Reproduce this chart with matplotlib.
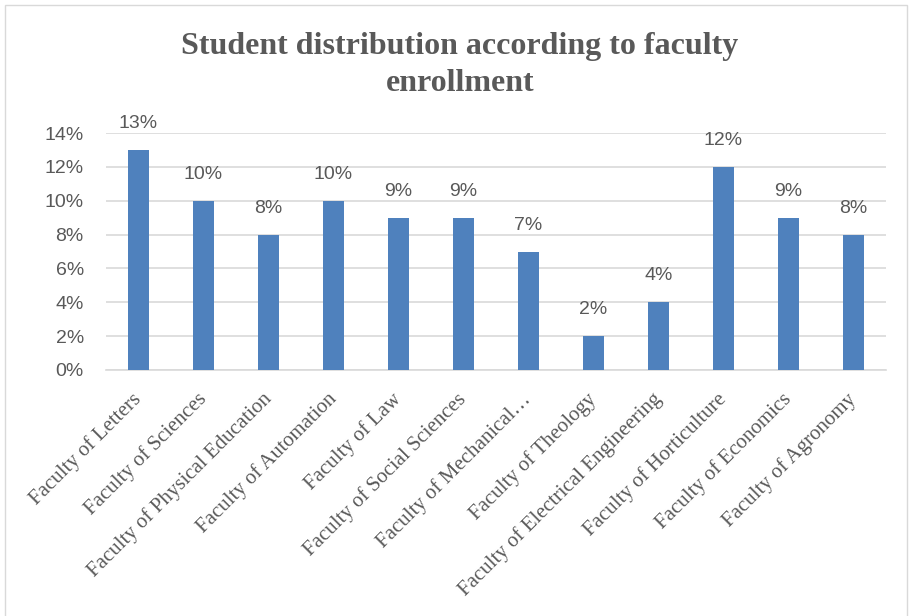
import matplotlib.pyplot as plt
from matplotlib.patches import Rectangle
from matplotlib.ticker import FuncFormatter

faculties = [
    "Faculty of Letters",
    "Faculty of Sciences",
    "Faculty of Physical Education",
    "Faculty of Automation",
    "Faculty of Law",
    "Faculty of Social Sciences",
    "Faculty of Mechanical\u2026",
    "Faculty of Theology",
    "Faculty of Electrical Engineering",
    "Faculty of Horticulture",
    "Faculty of Economics",
    "Faculty of Agronomy",
]
shares = [13, 10, 8, 10, 9, 9, 7, 2, 4, 12, 9, 8]
y_ticks = [0, 2, 4, 6, 8, 10, 12, 14]

TEXT = "#595959"
BAR = "#4F81BD"
GRID = "#D9D9D9"


def main():
    fig = plt.figure(figsize=(9.11, 6.16), dpi=100)
    fig.patch.set_facecolor("white")

    # light chart-area border
    fig.patches.append(Rectangle((5 / 911, -0.02), 902 / 911, 1.02 - 5 / 616,
                                 transform=fig.transFigure, fill=False,
                                 edgecolor="#D9D9D9", linewidth=1.0))

    ax = fig.add_axes([106 / 911, 1 - 370 / 616, 780 / 911, 237 / 616])
    x = range(len(faculties))
    ax.bar(x, shares, width=0.31, color=BAR, zorder=3)

    for xi, v in zip(x, shares):
        ax.annotate(f"{v}%", (xi, v), xytext=(0, 19), textcoords="offset points",
                    ha="center", va="center", fontsize=14,
                    family="Liberation Sans", color=TEXT)

    ax.set_ylim(0, 14)
    ax.set_xlim(-0.5, len(faculties) - 0.5)
    ax.set_yticks(y_ticks)
    ax.yaxis.set_major_formatter(FuncFormatter(lambda v, _: f"{v:.0f}%"))
    ax.grid(axis="y", color=GRID, linewidth=1.2, zorder=0)
    ax.tick_params(axis="y", length=0, pad=16, labelsize=14, labelcolor=TEXT)
    for lbl in ax.get_yticklabels():
        lbl.set_family("Liberation Sans")

    ax.set_xticks(list(x))
    ax.set_xticklabels(faculties, rotation=45, ha="right", va="center",
                       rotation_mode="anchor", fontsize=15,
                       family="Liberation Serif", color=TEXT)
    ax.tick_params(axis="x", length=0, pad=19)

    for side in ["top", "right", "left"]:
        ax.spines[side].set_visible(False)
    ax.spines["bottom"].set_color(GRID)
    ax.spines["bottom"].set_linewidth(1.2)

    fig.text(460 / 911, 1 - 65 / 616,
             "Student distribution according to faculty\nenrollment",
             ha="center", va="center", fontsize=23, fontweight="bold",
             family="Liberation Serif", color=TEXT, linespacing=1.33)

    fig.savefig("out.png", dpi=100)


if __name__ == "__main__":
    main()
